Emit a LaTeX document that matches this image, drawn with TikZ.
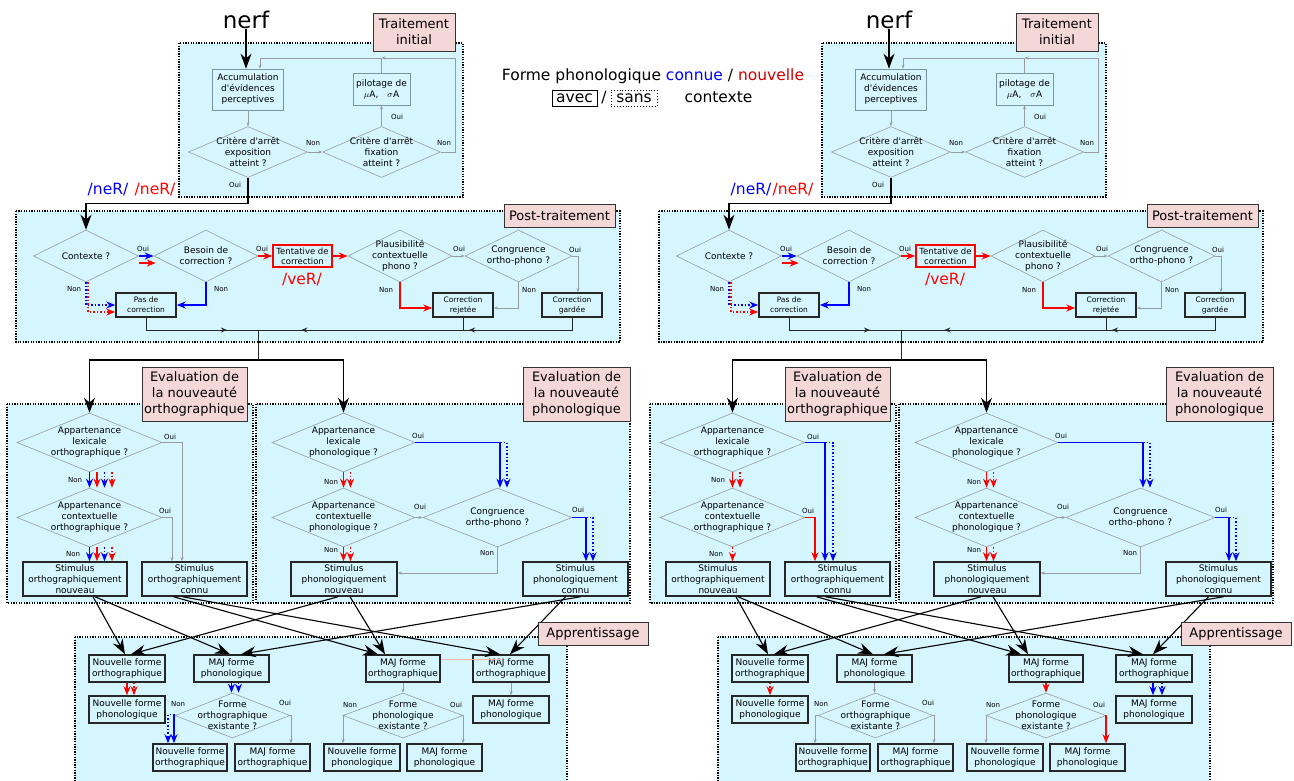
\documentclass[tikz,border=0pt]{standalone}
\usepackage{fontspec}
\setmainfont{DejaVu Sans}[Ligatures=TeXOff]
\usetikzlibrary{shapes.geometric,arrows.meta,decorations.markings}
\definecolor{fondbleu}{RGB}{213,246,255}
\definecolor{rose}{RGB}{244,215,215}
\definecolor{gristrait}{RGB}{150,156,160}
\definecolor{griscadre}{RGB}{120,150,160}
\definecolor{rougeleg}{RGB}{210,0,0}
\newcommand\petit{\fontsize{9}{11}\selectfont}
\newcommand\mini{\fontsize{7}{8}\selectfont}
\tikzset{
	zone/.style={fill=fondbleu, draw=black, line width=1.3pt, dash pattern=on 1.3pt off 1.3pt},
	etiq/.style={draw=black!80, fill=rose, line width=1pt, align=center, inner sep=0pt, font=\fontsize{13}{16}\selectfont},
	ask/.style={diamond, draw=gristrait, line width=0.6pt, inner sep=0pt, label={[asktxt]center:#1}},
	asktxt/.style={align=center, inner sep=0pt, font=\petit},
	boite/.style={draw=black!85, line width=1.5pt, align=center, inner sep=0pt, font=\petit},
	cadre/.style={draw=griscadre, line width=0.7pt, align=center, inner sep=0pt, font=\petit},
	lab/.style={inner sep=0pt, font=\mini},
	phon/.style={inner sep=0pt, font=\fontsize{15.5}{18}\selectfont},
	legende/.style={inner sep=0pt, font=\fontsize{15.5}{18}\selectfont},
	fl/.style={draw=gristrait, line width=0.6pt, -{Stealth[length=4pt,width=3pt]}},
	ln/.style={draw=black!85, line width=0.8pt},
	gros/.style={draw=black, line width=1.1pt, -{Stealth[length=15pt,width=11pt]}},
	bleu/.style={draw=blue, line width=1.5pt, -{Stealth[length=9pt,width=7pt]}},
	bleupt/.style={bleu, dotted},
	rouge/.style={draw=red, line width=1.5pt, -{Stealth[length=9pt,width=7pt]}},
	rougept/.style={rouge, dotted},
	midarrow/.style={postaction={decorate}, decoration={markings, mark=at position #1 with {\arrow{Stealth[length=6pt,width=5pt]}}}},
}
\begin{document}
\begin{tikzpicture}[x=1pt,y=-1pt]
	\path[use as bounding box, fill=white] (0,0) rectangle (1294,780);
	\foreach \side/\dx/\rx in {L/0/155,R/643/150}{
	\begin{scope}[xshift=\dx, name prefix=\side-]
	\draw[zone] (179,43) rectangle (463,197);
	\node[etiq, minimum width=82, minimum height=38] (tiLab) at (414,32) {Traitement\\initial};
	\node[font=\fontsize{23}{26}\selectfont, inner sep=0pt] (nerf) at (246,20) {nerf};
	\node[cadre, minimum width=71, minimum height=41] (acc) at (248,89.5) {Accumulation\\d'évidences\\perceptives};
	\node[cadre, minimum width=57, minimum height=32] (pilot) at (381.5,89) {pilotage de\\$\mu$A,\quad$\sigma$A};
	\node[ask={Critère d'arrêt\\exposition\\atteint ?}, minimum width=119, minimum height=51] (stopE) at (248,152) {};
	\node[ask={Critère d'arrêt\\fixation\\atteint ?}, minimum width=118, minimum height=51] (stopF) at (381.5,152) {};
	\coordinate (boucle) at (455,58);
	\draw[gros] (nerf.south) -- (nerf.south |- acc.north);
	\draw[fl] (acc.south) -- (stopE.north);
	\draw[fl] (stopE.east) -- (stopF.west);
	\draw[fl] (stopF.north) -- (pilot.south);
	\draw[fl] (stopF.east) -| (boucle) -- (pilot.north |- boucle);
	\draw[fl] (pilot.north) |- ([xshift=12]acc.north |- boucle) -- ([xshift=12]acc.north);
	\draw[zone] (16,211) rectangle (620,342);
	\node[etiq, minimum width=111, minimum height=23] (ptLab) at (559.5,215.5) {Post-traitement};
	\node[phon, text=blue] (neB) at (108,190) {/neR/};
	\node[phon, text=red] (neR) at (\rx,190) {/neR/};
	\node[ask={Contexte ?}, minimum width=105, minimum height=52] (ctx) at (86,256) {};
	\node[ask={Besoin de\\correction ?}, minimum width=104, minimum height=52] (besoin) at (206,256) {};
	\node[boite, draw=red, font=\fontsize{8.5}{10}\selectfont, minimum width=59, minimum height=22] (tent) at (302.5,256) {Tentative de\\correction};
	\node[phon, text=red] (veR) at (302,280) {/veR/};
	\node[ask={Plausibilité\\contextuelle\\phono ?}, minimum width=104, minimum height=52] (plaus) at (400,256) {};
	\node[ask={Congruence\\ortho-phono ?}, minimum width=107, minimum height=52] (congP) at (518.5,256) {};
	\node[boite, font=\fontsize{7.5}{10}\selectfont, minimum width=60, minimum height=24] (pasC) at (146,305) {Pas de\\correction};
	\node[boite, font=\fontsize{7.5}{10}\selectfont, minimum width=60, minimum height=24] (rej) at (463,305) {Correction\\rejetée};
	\node[boite, font=\fontsize{7.5}{10}\selectfont, minimum width=60, minimum height=24] (gard) at (572,305) {Correction\\gardée};
	\coordinate (jonc) at (258,330);
	\coordinate (split) at (258,360);
	\draw[gros] (stopE.south) -- ++(0,26) -| (ctx.north);
	\draw[bleu] (ctx.east) -- (besoin.west);
	\draw[rouge] ([yshift=-7]ctx.east) -- ++(17,0);
	\draw[rouge] (besoin.east) -- (tent.west);
	\draw[rouge] (tent.east) -- (plaus.west);
	\draw[bleupt] (ctx.south) |- (pasC.west);
	\draw[rougept] ([xshift=2]ctx.south) |- ([yshift=-7]pasC.west);
	\draw[bleu] (besoin.south) |- (pasC.east);
	\draw[rouge] (plaus.south) |- ([yshift=-3]rej.west);
	\draw[fl] (plaus.east) -- (congP.west);
	\draw[fl] (congP.south) |- ([yshift=-3]rej.east);
	\draw[fl] (congP.east) -| ([xshift=6]gard.north);
	\draw[ln, midarrow=0.75] (pasC.south) |- (jonc);
	\draw[ln, midarrow=0.8] (rej.south) |- (jonc);
	\draw[ln, midarrow=0.95] (gard.south) |- (rej.south |- jonc);
	\draw[ln] (jonc) -- (split);
	\draw[zone] (7,404) rectangle (253,603);
	\draw[zone] (256,404) rectangle (630,603);
	\node[etiq, minimum width=105, minimum height=54] (evoLab) at (194.5,394) {Evaluation de\\la nouveauté\\orthographique};
	\node[etiq, minimum width=107, minimum height=54] (evpLab) at (576.5,394) {Evaluation de\\la nouveauté\\phonologique};
	\node[ask={Appartenance\\lexicale\\orthographique ?}, minimum width=145, minimum height=59] (lexO) at (89.5,442.5) {};
	\node[ask={Appartenance\\contextuelle\\orthographique ?}, minimum width=145, minimum height=59] (ctxO) at (89.5,517.5) {};
	\node[boite, minimum width=104, minimum height=34] (stimON) at (75,579) {Stimulus\\orthographiquement\\nouveau};
	\node[boite, minimum width=105, minimum height=34] (stimOC) at (194.5,579) {Stimulus\\orthographiquement\\connu};
	\node[ask={Appartenance\\lexicale\\phonologique ?}, minimum width=143, minimum height=59] (lexP) at (343.5,442.5) {};
	\node[ask={Appartenance\\contextuelle\\phonologique ?}, minimum width=143, minimum height=59] (ctxP) at (343.5,517.5) {};
	\node[ask={Congruence\\ortho-phono ?}, minimum width=149, minimum height=59] (congE) at (497.5,517.5) {};
	\node[boite, minimum width=106, minimum height=34] (stimPN) at (344,579) {Stimulus\\phonologiquement\\nouveau};
	\node[boite, minimum width=105, minimum height=34] (stimPC) at (575.5,579) {Stimulus\\phonologiquement\\connu};
	\draw[gros] (split) -| (lexO.north);
	\draw[gros] (split) -| (lexP.north);
	\draw[bleu] (lexP.east) -| ([xshift=2.5]congE.north);
	\draw[bleupt] ([xshift=2.5]congE.north |- lexP.east) -| ([xshift=9.5]congE.north);
	\draw[rouge] (lexP.south) -- (ctxP.north);
	\draw[rougept] ([xshift=7]lexP.south) -- ([xshift=7]ctxP.north);
	\draw[rouge] (ctxP.south) -- (ctxP.south |- stimPN.north);
	\draw[rougept] ([xshift=7]ctxP.south) -- ([xshift=7]ctxP.south |- stimPN.north);
	\draw[fl] (ctxP.east) -- (congE.west);
	\draw[fl] (congE.south) |- ([yshift=6]stimPN.east);
	\draw[bleu] (congE.east) -| ([xshift=10.5]stimPC.north);
	\draw[bleupt] ([xshift=10.5]stimPC.north |- congE.east) -| ([xshift=17.5]stimPC.north);
	\draw[zone] (75,637) rectangle (567,790);
	\node[boite, minimum width=76, minimum height=27] (nfo) at (127,668.5) {Nouvelle forme\\orthographique};
	\node[boite, minimum width=75, minimum height=27] (majp) at (231.5,668.5) {MAJ forme\\phonologique};
	\node[boite, minimum width=74, minimum height=27] (majo) at (403,668.5) {MAJ forme\\orthographique};
	\node[boite, minimum width=76, minimum height=27] (majoc) at (511,668.5) {MAJ forme\\orthographique};
	\node[boite, minimum width=76, minimum height=27] (nfp) at (127,709.5) {Nouvelle forme\\phonologique};
	\node[boite, minimum width=76, minimum height=27] (majpc) at (511,709.5) {MAJ forme\\phonologique};
	\node[ask={Forme\\orthographique\\existante ?}, minimum width=115, minimum height=45] (exO) at (232.5,715.5) {};
	\node[ask={Forme\\phonologique\\existante ?}, minimum width=120, minimum height=45] (exP) at (403,715.5) {};
	\node[boite, minimum width=74, minimum height=27] (nfo2) at (190,757.5) {Nouvelle forme\\orthographique};
	\node[boite, minimum width=75, minimum height=27] (majo2) at (272.5,757.5) {MAJ forme\\orthographique};
	\node[boite, minimum width=76, minimum height=27] (nfp2) at (362,757.5) {Nouvelle forme\\phonologique};
	\node[boite, minimum width=75, minimum height=27] (majp2) at (444.5,757.5) {MAJ forme\\phonologique};
	\draw[fl] (exO.east) -| ([xshift=18.5]majo2.north);
	\draw[fl] (exP.west) -| ([xshift=-19]nfp2.north);
	\draw[gros] ([xshift=18]stimON.south) -- ([xshift=-2]nfo.north);
	\draw[gros] ([xshift=20]stimON.south) -- ([xshift=-1.5]majp.north);
	\draw[gros] ([xshift=-6]stimPN.south) -- ([xshift=4]nfo.north);
	\draw[gros] ([xshift=6]stimPN.south) -- ([xshift=-18]majo.north);
	\draw[gros] ([xshift=-21]stimOC.south) -- ([xshift=-25]majo.north);
	\draw[gros] ([xshift=-12]stimOC.south) -- ([xshift=-11]majoc.north);
	\draw[gros] ([xshift=5]stimPC.south) -- ([xshift=9.5]majp.north);
	\draw[gros] ([xshift=-10]stimPC.south) -- ([xshift=-1]majoc.north);
	\node[etiq, minimum width=110, minimum height=23] (apLab) at (593,633.5) {Apprentissage};
	\foreach \x/\y/\t [count=\k] in {313/143/Non,397/117/Oui,444/143/Non,235/185/Oui,
		143/249/Oui,262/249/Oui,74/289/Non,221/289/Non,459/249/Oui,386/290/Non,529/290/Non,575/250/Oui,
		170/437/Oui,75/480/Non,165/511/Oui,73/554/Non,
		418/436/Oui,331/482/Non,420/507/Oui,331/550/Non,487/553/Non,578/510/Oui,
		178/704/Non,285/703/Oui,350/705/Non,456/705/Oui}
	\node[lab] (lab\k) at (\x,\y) {\t};
	\end{scope}
	}
	\begin{scope}[name prefix=L-]
	\foreach \k/\st in {0/bleu,7.5/rouge,15/bleupt,22.5/rougept}{
		\draw[\st] ([xshift=\k]lexO.south) -- ([xshift=\k]ctxO.north);
		\draw[\st] ([xshift=\k]ctxO.south) -- ([xshift=\k]ctxO.south |- stimON.north);
	}
	\draw[fl] (lexO.east) -| ([xshift=-12.5]stimOC.north);
	\draw[fl] (ctxO.east) -| ([xshift=-22.5]stimOC.north);
	\draw[rouge] (nfo.south) -- (nfp.north);
	\draw[rougept] ([xshift=7]nfo.south) -- ([xshift=7]nfp.north);
	\draw[bleu] (majp.south) -- (majp.south |- exO.north);
	\draw[bleupt] ([xshift=7]majp.south) -- ([xshift=7]majp.south |- exO.north);
	\draw[bleu] (exO.west) -| ([xshift=-16]nfo2.north);
	\draw[bleupt] ([yshift=1]exO.west) -| ([xshift=-22]nfo2.north);
	\draw[fl] (majo.south) -- (exP.north);
	\draw[fl] (exP.east) -| ([xshift=18.5]majp2.north);
	\draw[fl] (majoc.south) -- (majpc.north);
	\draw[red!30, line width=0.6pt] ([yshift=9.5]majo.east) -- ++(60,0);
	\end{scope}
	\begin{scope}[name prefix=R-]
	\draw[rouge] (lexO.south) -- (ctxO.north);
	\draw[rougept] ([xshift=7.5]lexO.south) -- ([xshift=7.5]ctxO.north);
	\draw[rougept] (ctxO.south) -- (ctxO.south |- stimON.north);
	\draw[bleu] (lexO.east) -| ([xshift=-12.5]stimOC.north);
	\draw[bleupt] ([xshift=-12.5]stimOC.north |- lexO.east) -| ([xshift=-4.5]stimOC.north);
	\draw[rouge] (ctxO.east) -| ([xshift=-22.5]stimOC.north);
	\draw[rougept] (nfo.south) -- (nfp.north);
	\draw[fl] (majp.south) -- (majp.south |- exO.north);
	\draw[fl] (exO.west) -| ([xshift=-18]nfo2.north);
	\draw[rouge] (majo.south) -- (exP.north);
	\draw[rouge] (exP.east) -| ([xshift=18.5]majp2.north);
	\draw[bleu] ([xshift=-1]majoc.south) -- ([xshift=-1]majpc.north);
	\draw[bleupt] ([xshift=8]majoc.south) -- ([xshift=8]majpc.north);
	\end{scope}
	\node[legende] (legA) at (653,76) {Forme phonologique \textcolor{blue}{connue} / \textcolor{rougeleg}{nouvelle}};
	\node[legende, draw, line width=0.9pt, minimum width=45, minimum height=16] (avec) at (574.5,98) {avec};
	\node[legende] (barre) at (604,98) {/};
	\node[legende, draw, dotted, line width=0.9pt, minimum width=46, minimum height=16] (sans) at (634,98) {sans};
	\node[legende] (ctxt) at (718.5,97) {contexte};
\end{tikzpicture}
\end{document}
